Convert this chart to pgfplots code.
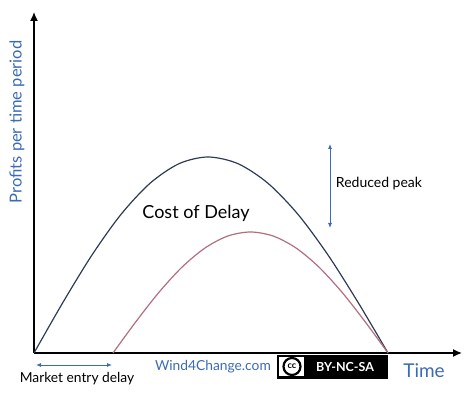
\documentclass[border=0pt]{standalone}
\usepackage{pgfplots}
\pgfplotsset{compat=1.18}
\usepackage{fontspec}
\setmainfont{Lato}
\usetikzlibrary{arrows.meta}
\definecolor{navy}{HTML}{2E3B55}
\definecolor{rose}{HTML}{B26F7E}
\definecolor{tblue}{HTML}{3A6BB5}
\begin{document}
\begin{tikzpicture}
\begin{axis}[
  scale only axis, width=474pt, height=395pt,
  xmin=-34, xmax=440, ymin=-42, ymax=353,
  axis lines=none, clip=false, ticks=none,
]
\path (axis cs:-34,-42) rectangle (axis cs:440,353);
% axes
\draw[line width=1.4pt, -{Latex[length=9pt,width=8pt]}] (axis cs:0,0) -- (axis cs:428,0);
\draw[line width=1.4pt, -{Latex[length=9pt,width=8pt]}] (axis cs:0,0) -- (axis cs:0,341);
% curves
\addplot[navy, line width=1.2pt, smooth, no markers] coordinates {
(0,0) (29,50.7) (58,98) (87,138.6) (116,169.7) (145,189.3) (174,196)
(204,189.3) (234,169.7) (264,138.6) (294,98) (324,50.7) (354,0)};
\addplot[rose, line width=1.2pt, smooth, no markers] coordinates {
(79,0) (101.9,31.3) (124.8,60.5) (147.75,85.6) (170.7,104.8) (193.6,116.9) (216.5,121)
(239.4,116.9) (262.3,104.8) (285.25,85.6) (308.2,60.5) (331.1,31.3) (354,0)};
% labels
\node[rotate=90, text=tblue, font=\fontsize{16.5}{18}\selectfont] at (axis cs:-17,231) {Profits per time period};
\node[text=tblue, font=\fontsize{19}{21}\selectfont] at (axis cs:390,-18) {Time};
\node[text=tblue, font=\fontsize{13.8}{15}\selectfont] at (axis cs:179,-14) {Wind4Change.com};
\node[font=\fontsize{13.8}{15}\selectfont] at (axis cs:43,-26) {Market entry delay};
\node[font=\fontsize{18}{20}\selectfont] at (axis cs:162,140) {Cost of Delay};
\node[font=\fontsize{14}{16}\selectfont] at (axis cs:345,169) {Reduced peak};
% arrows
\draw[tblue, line width=0.8pt, {Latex[length=5pt,width=4pt]}-{Latex[length=5pt,width=4pt]}] (axis cs:2,-12) -- (axis cs:78,-12);
\draw[tblue, line width=0.8pt, {Latex[length=5pt,width=4pt]}-{Latex[length=5pt,width=4pt]}] (axis cs:296,209) -- (axis cs:296,125);
% CC badge
\filldraw[draw=black, fill=black, line width=0.6pt] (axis cs:243,-2) rectangle (axis cs:353,-25);
\fill[white] (axis cs:245,-4) rectangle (axis cs:270,-23);
\draw[black, line width=2.2pt, fill=white] (axis cs:258,-13.5) circle[radius=8.5pt];
\node[font=\bfseries\fontsize{9}{10}\selectfont] at (axis cs:258,-13.5) {cc};
\node[text=white, font=\bfseries\fontsize{12.5}{13}\selectfont] at (axis cs:311,-13.5) {BY-NC-SA};
\end{axis}
\end{tikzpicture}
\end{document}
